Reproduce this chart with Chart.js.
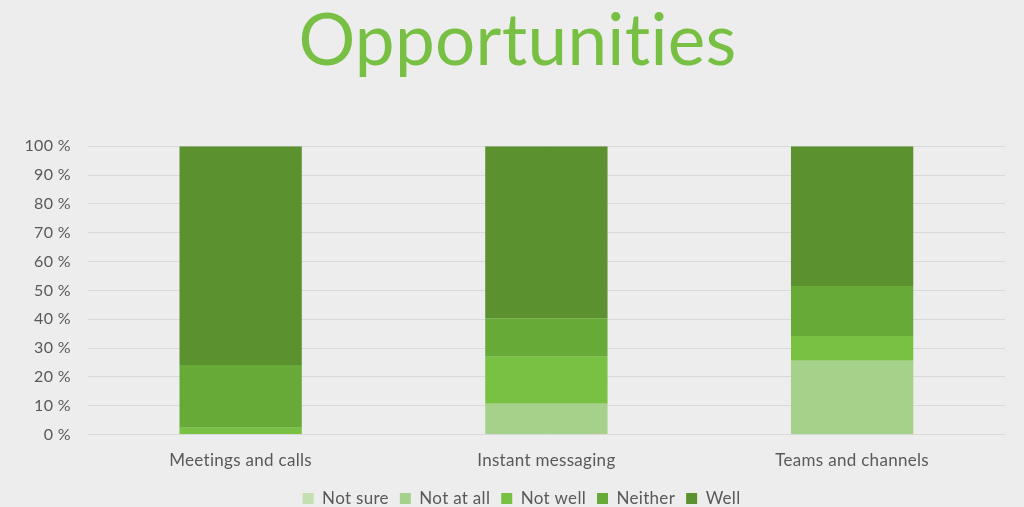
<!DOCTYPE html>
<html>
<head>
<meta charset="utf-8">
<script src="https://cdn.jsdelivr.net/npm/chart.js@4/dist/chart.umd.min.js"></script>
<style>
  html, body { margin: 0; padding: 0; background: #ededed; }
  #wrap { width: 1024px; height: 507px; }
</style>
</head>
<body>
<div id="wrap"><canvas id="myChart" width="1024" height="507"></canvas></div>
<script>
// categories and series (percent of answers)
const categories = ['Meetings and calls', 'Instant messaging', 'Teams and channels'];
const notSure = [0, 0, 0];
const notAtAll = [0, 10.7, 25.6];
const notWell = [2.4, 16.3, 8.6];
const neither = [21.7, 13.3, 17.3];
const well = [75.9, 59.7, 48.5];

const seriesNames = ['Not sure', 'Not at all', 'Not well', 'Neither', 'Well'];
const seriesColors = ['#c3e0b0', '#a5d18b', '#79c143', '#67aa37', '#5b912f'];
const seriesData = [notSure, notAtAll, notWell, neither, well];

// tiny letter spacing keeps Lato from joining "ti" into a ligature,
// title and legend are nudged right to sit where they do in the original
const tweaks = {
  id: 'tweaks',
  beforeInit(chart) { chart.ctx.letterSpacing = '0.3px'; },
  afterLayout(chart) {
    if (chart.titleBlock) chart.titleBlock.left += 21;
    if (chart.legend) chart.legend.left += 18;
  },
  beforeDraw(chart) { chart.ctx.letterSpacing = '0.3px'; }
};

const ctx = document.getElementById('myChart').getContext('2d');
new Chart(ctx, {
  type: 'bar',
  data: {
    labels: categories,
    datasets: seriesData.map((d, i) => ({
      label: seriesNames[i],
      data: d,
      backgroundColor: seriesColors[i],
      borderWidth: 0,
      categoryPercentage: 1.0,
      barPercentage: 0.4
    }))
  },
  plugins: [tweaks],
  options: {
    responsive: false,
    animation: false,
    layout: { padding: { left: 9, right: 19, top: 0, bottom: -10 } },
    plugins: {
      title: {
        display: true,
        text: 'Opportunities',
        color: '#78c043',
        font: { family: 'Lato', size: 71, weight: 'normal' },
        padding: { top: 0, bottom: 61 }
      },
      legend: {
        position: 'bottom',
        labels: {
          color: '#595959',
          font: { family: 'Lato', size: 17, lineHeight: 0.8 },
          boxWidth: 11,
          boxHeight: 11,
          padding: 11
        }
      },
      tooltip: { enabled: false }
    },
    scales: {
      x: {
        stacked: true,
        grid: { display: false },
        border: { display: false },
        ticks: { color: '#595959', font: { family: 'Lato', size: 17 }, padding: 8 }
      },
      y: {
        stacked: true,
        min: 0,
        max: 100,
        ticks: {
          stepSize: 10,
          color: '#595959',
          font: { family: 'Lato', size: 16 },
          padding: 17,
          callback: v => v + ' %'
        },
        grid: { color: '#d9d9d9', drawTicks: false },
        border: { display: false }
      }
    }
  }
});
</script>
</body>
</html>
